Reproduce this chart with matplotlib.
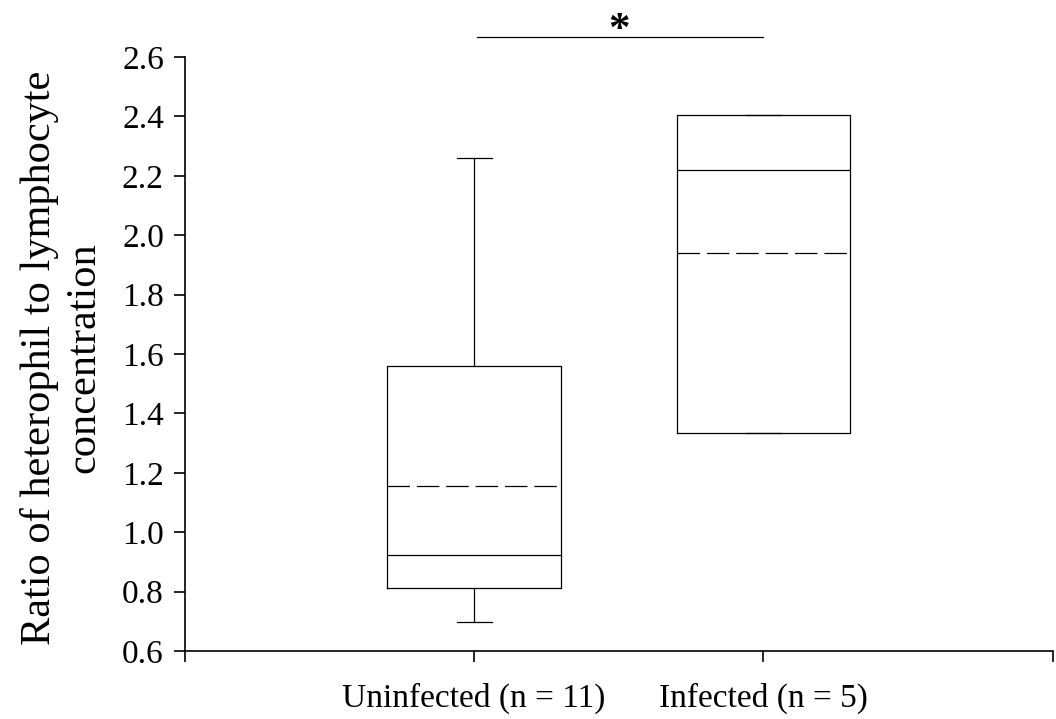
import matplotlib.pyplot as plt

plt.rcParams["font.family"] = ["Liberation Serif", "DejaVu Serif"]

# Box statistics
groups = ["Uninfected (n = 11)", "Infected (n = 5)"]
whisker_low = [0.698, 1.334]
q1 = [0.813, 1.334]
median = [0.923, 2.219]
mean = [1.155, 1.940]
q3 = [1.560, 2.406]
whisker_high = [2.260, 2.406]

sig_y = 2.667
sig_label = "*"

stats = []
for i, name in enumerate(groups):
    stats.append(
        dict(
            label=name,
            whislo=whisker_low[i],
            q1=q1[i],
            med=median[i],
            mean=mean[i],
            q3=q3[i],
            whishi=whisker_high[i],
            fliers=[],
        )
    )

fig = plt.figure(figsize=(10.56, 7.19), dpi=100)
ax = fig.add_axes([0.175, 0.0946, 0.822, 0.8261])

line = dict(color="black", linewidth=0.9)
ax.bxp(
    stats,
    positions=[1, 2],
    widths=0.6,
    capwidths=0.12,
    showmeans=True,
    meanline=True,
    boxprops=line,
    whiskerprops=line,
    capprops=line,
    medianprops=line,
    meanprops=dict(color="black", linewidth=0.9, linestyle=(0, (18, 5.5))),
)

ax.set_xlim(0, 3)
ax.set_ylim(0.6, 2.6)
ax.set_xticks([0, 1, 2, 3])
ax.set_xticklabels(["", groups[0], groups[1], ""])
ax.set_yticks([0.6 + 0.2 * i for i in range(11)])
ax.set_yticklabels([f"{0.6 + 0.2 * i:.1f}" for i in range(11)])
ax.tick_params(axis="both", direction="out", length=8, width=1.2, labelsize=24, pad=7)
ax.tick_params(axis="x", pad=15)
for side in ("top", "right"):
    ax.spines[side].set_visible(False)
for side in ("left", "bottom"):
    ax.spines[side].set_linewidth(1.2)

fig.text(0.058, 0.503, "Ratio of heterophil to lymphocyte\nconcentration",
         rotation=90, ha="center", va="center", multialignment="center",
         fontsize=30.5, linespacing=1.2)

# significance bar
ax.plot([1.01, 2.0], [sig_y, sig_y], color="black", linewidth=0.9, clip_on=False)
ax.text(1.5, 2.655, sig_label, ha="center", va="baseline", fontsize=31,
        fontweight="bold")

fig.savefig("out.png", dpi=100)
